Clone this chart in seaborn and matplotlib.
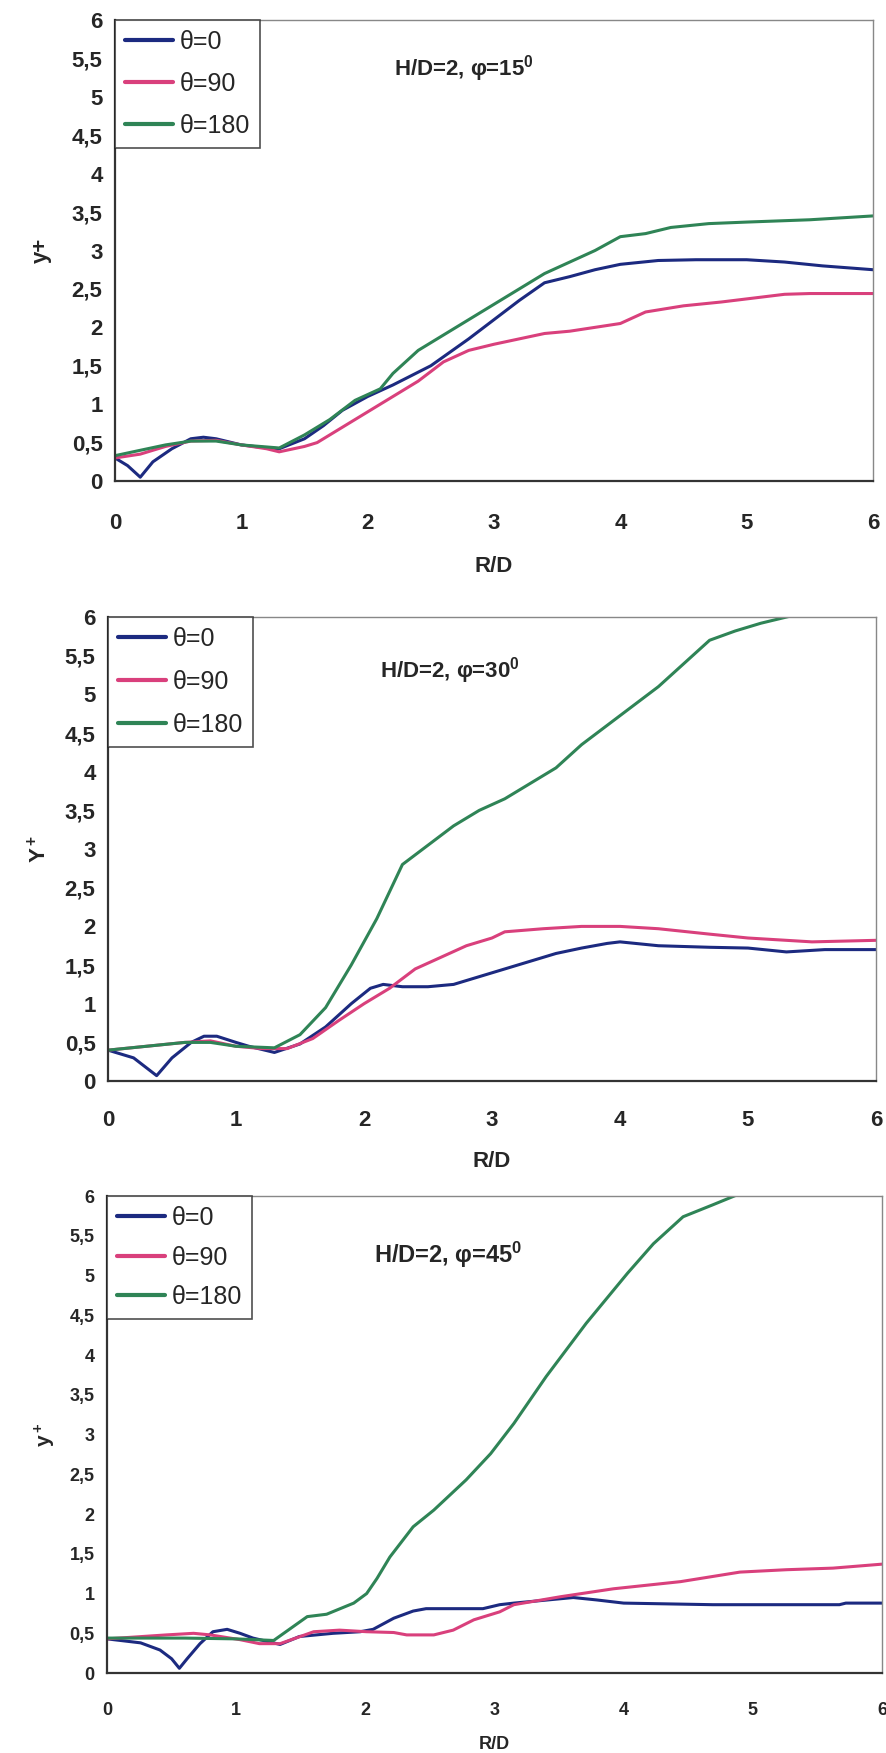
import numpy as np
import pandas as pd
import matplotlib
matplotlib.use("Agg")
import matplotlib.pyplot as plt
from matplotlib.ticker import FuncFormatter, MultipleLocator
import seaborn as sns

# ---- phi = 15 deg ----
rd15_t0 = [0, 0.1, 0.2, 0.3, 0.45, 0.6, 0.7, 0.8, 1.0, 1.15, 1.3, 1.5, 1.65, 1.8, 2.0, 2.2, 2.5, 2.8, 3.0, 3.2, 3.4, 3.6, 3.8, 4.0, 4.3, 4.6, 5.0, 5.3, 5.6, 6.0]
y15_t0 = [0.30, 0.20, 0.05, 0.25, 0.42, 0.55, 0.57, 0.55, 0.47, 0.44, 0.42, 0.55, 0.72, 0.92, 1.10, 1.25, 1.50, 1.85, 2.10, 2.35, 2.58, 2.66, 2.75, 2.82, 2.87, 2.88, 2.88, 2.85, 2.80, 2.75]
rd15_t90 = [0, 0.2, 0.4, 0.6, 0.8, 1.0, 1.2, 1.3, 1.5, 1.6, 1.8, 2.0, 2.2, 2.4, 2.6, 2.8, 3.0, 3.2, 3.4, 3.6, 3.8, 4.0, 4.2, 4.5, 4.8, 5.0, 5.3, 5.5, 6.0]
y15_t90 = [0.30, 0.35, 0.45, 0.52, 0.53, 0.47, 0.42, 0.38, 0.45, 0.50, 0.70, 0.90, 1.10, 1.30, 1.55, 1.70, 1.78, 1.85, 1.92, 1.95, 2.00, 2.05, 2.20, 2.28, 2.33, 2.37, 2.43, 2.44, 2.44]
rd15_t180 = [0, 0.2, 0.4, 0.6, 0.8, 1.0, 1.3, 1.5, 1.7, 1.9, 2.1, 2.2, 2.4, 2.6, 2.8, 3.0, 3.2, 3.4, 3.6, 3.8, 4.0, 4.2, 4.4, 4.7, 5.0, 5.5, 6.0]
y15_t180 = [0.33, 0.40, 0.47, 0.52, 0.52, 0.47, 0.43, 0.60, 0.80, 1.05, 1.20, 1.40, 1.70, 1.90, 2.10, 2.30, 2.50, 2.70, 2.85, 3.00, 3.18, 3.22, 3.30, 3.35, 3.37, 3.40, 3.45]

# ---- phi = 30 deg ----
rd30_t0 = [0, 0.2, 0.38, 0.5, 0.65, 0.75, 0.85, 1.0, 1.1, 1.3, 1.5, 1.7, 1.9, 2.05, 2.15, 2.3, 2.5, 2.7, 2.9, 3.1, 3.3, 3.5, 3.7, 3.9, 4.0, 4.3, 4.7, 5.0, 5.3, 5.6, 6.0]
y30_t0 = [0.40, 0.30, 0.07, 0.30, 0.50, 0.58, 0.58, 0.50, 0.45, 0.37, 0.48, 0.70, 1.00, 1.20, 1.25, 1.22, 1.22, 1.25, 1.35, 1.45, 1.55, 1.65, 1.72, 1.78, 1.80, 1.75, 1.73, 1.72, 1.67, 1.70, 1.70]
rd30_t90 = [0, 0.3, 0.6, 0.8, 1.0, 1.2, 1.4, 1.6, 1.8, 2.0, 2.2, 2.4, 2.6, 2.8, 3.0, 3.1, 3.4, 3.7, 4.0, 4.3, 4.7, 5.0, 5.5, 6.0]
y30_t90 = [0.40, 0.45, 0.50, 0.52, 0.45, 0.42, 0.42, 0.55, 0.78, 1.00, 1.20, 1.45, 1.60, 1.75, 1.85, 1.93, 1.97, 2.00, 2.00, 1.97, 1.90, 1.85, 1.80, 1.82]
rd30_t180 = [0, 0.3, 0.6, 0.8, 1.0, 1.3, 1.5, 1.7, 1.9, 2.1, 2.3, 2.5, 2.7, 2.9, 3.1, 3.3, 3.5, 3.7, 3.9, 4.1, 4.3, 4.5, 4.7, 4.9, 5.1, 5.3, 5.5]
y30_t180 = [0.40, 0.45, 0.50, 0.50, 0.45, 0.43, 0.60, 0.95, 1.50, 2.10, 2.80, 3.05, 3.30, 3.50, 3.65, 3.85, 4.05, 4.35, 4.60, 4.85, 5.10, 5.40, 5.70, 5.82, 5.92, 6.00, 6.08]

# ---- phi = 45 deg ----
rd45_t0 = [0, 0.26, 0.41, 0.5, 0.56, 0.62, 0.72, 0.82, 0.93, 1.03, 1.13, 1.34, 1.49, 1.75, 1.96, 2.06, 2.22, 2.37, 2.47, 2.91, 3.04, 3.15, 3.61, 3.79, 4.0, 4.69, 5.67, 5.72, 6.0]
y45_t0 = [0.43, 0.38, 0.29, 0.18, 0.06, 0.18, 0.37, 0.52, 0.55, 0.50, 0.44, 0.36, 0.46, 0.50, 0.52, 0.55, 0.69, 0.78, 0.81, 0.81, 0.86, 0.88, 0.95, 0.92, 0.88, 0.86, 0.86, 0.88, 0.88]
rd45_t90 = [0, 0.46, 0.67, 0.8, 1.03, 1.18, 1.34, 1.6, 1.8, 2.01, 2.22, 2.32, 2.53, 2.68, 2.84, 3.04, 3.15, 3.51, 3.92, 4.44, 4.9, 5.26, 5.62, 6.0]
y45_t90 = [0.43, 0.48, 0.50, 0.48, 0.42, 0.37, 0.37, 0.52, 0.54, 0.52, 0.51, 0.48, 0.48, 0.54, 0.67, 0.77, 0.86, 0.96, 1.06, 1.15, 1.27, 1.30, 1.32, 1.37]
rd45_t180 = [0, 0.6, 1.0, 1.29, 1.55, 1.7, 1.91, 2.01, 2.09, 2.19, 2.37, 2.53, 2.78, 2.97, 3.15, 3.4, 3.71, 4.03, 4.23, 4.46, 4.69, 4.87, 5.0]
y45_t180 = [0.44, 0.44, 0.43, 0.41, 0.71, 0.74, 0.88, 1.00, 1.19, 1.46, 1.84, 2.05, 2.43, 2.76, 3.14, 3.73, 4.40, 5.03, 5.40, 5.74, 5.89, 6.01, 6.08]

series_names = ["θ=0", "θ=90", "θ=180"]
titles = ["H/D=2, φ=15$^0$", "H/D=2, φ=30$^0$", "H/D=2, φ=45$^0$"]
ylabels = ["y+", "Y$^+$", "y$^+$"]
x_ticks = [0, 1, 2, 3, 4, 5, 6]

colors = {"θ=0": "#1c2a80", "θ=90": "#d9407c", "θ=180": "#2f8456"}

panels = [
    [(rd15_t0, y15_t0), (rd15_t90, y15_t90), (rd15_t180, y15_t180)],
    [(rd30_t0, y30_t0), (rd30_t90, y30_t90), (rd30_t180, y30_t180)],
    [(rd45_t0, y45_t0), (rd45_t90, y45_t90), (rd45_t180, y45_t180)],
]

sns.set_style("white")
plt.rcParams["font.family"] = ["Liberation Sans", "DejaVu Sans"]
plt.rcParams["mathtext.fontset"] = "custom"
plt.rcParams["mathtext.rm"] = "Liberation Sans:bold"
plt.rcParams["mathtext.it"] = "Liberation Sans:bold"
plt.rcParams["mathtext.bf"] = "Liberation Sans:bold"

fig = plt.figure(figsize=(8.86, 17.53), dpi=100)
rects = [
    [0.1298, 0.7256, 0.8555, 0.2630],
    [0.1219, 0.3833, 0.8668, 0.2647],
    [0.1208, 0.0456, 0.8747, 0.2721],
]
tick_fs = [16, 16, 13]
ylabel_fs = [16, 16, 15]
ylabel_pad = [14, 10, 8]
title_fs = [16, 16, 17]
title_pos = [(0.46, 0.895), (0.445, 0.884), (0.44, 0.876)]
legend_fs = 18
legend_spacing = [0.72, 0.75, 0.62]
xpad = [18, 16, 16]
xlabelpad = [16, 14, 12]

comma = FuncFormatter(lambda v, p: ("%g" % v).replace(".", ","))

for i, rect in enumerate(rects):
    ax = fig.add_axes(rect)
    rows = []
    for name, (xs, ys) in zip(series_names, panels[i]):
        rows.append(pd.DataFrame({"R/D": xs, "y": ys, "series": name}))
    df = pd.concat(rows, ignore_index=True)
    sns.lineplot(data=df, x="R/D", y="y", hue="series", hue_order=series_names,
                 palette=colors, linewidth=2.2, sort=False, estimator=None, ax=ax)
    ax.set_xlim(0, 6)
    ax.set_ylim(0, 6)
    ax.set_xticks(x_ticks)
    ax.yaxis.set_major_locator(MultipleLocator(0.5))
    ax.yaxis.set_major_formatter(comma)
    ax.xaxis.set_major_formatter(comma)
    fs = tick_fs[i]
    ax.tick_params(axis="both", which="major", direction="out", length=5,
                   width=1, color="#555555", labelsize=fs)
    ax.tick_params(axis="x", pad=xpad[i])
    ax.tick_params(axis="y", pad=4)
    for lab in ax.get_xticklabels() + ax.get_yticklabels():
        lab.set_fontweight("bold")
    for side in ["left", "bottom"]:
        ax.spines[side].set_color("#333333")
        ax.spines[side].set_linewidth(1.6)
    for side in ["top", "right"]:
        ax.spines[side].set_color("#888888")
        ax.spines[side].set_linewidth(1.0)
    ax.set_xlabel("R/D", fontsize=fs, fontweight="bold", labelpad=xlabelpad[i])
    ax.set_ylabel(ylabels[i], fontsize=ylabel_fs[i], fontweight="bold",
                  labelpad=ylabel_pad[i])
    ax.text(title_pos[i][0], title_pos[i][1], titles[i], transform=ax.transAxes,
            ha="center", va="center", fontsize=title_fs[i], fontweight="bold")
    leg = ax.legend(loc="upper left", bbox_to_anchor=(0.0, 1.0), borderaxespad=0.0,
                    fontsize=legend_fs, frameon=True, fancybox=False,
                    handlelength=1.9, handletextpad=0.3,
                    labelspacing=legend_spacing[i], borderpad=0.4, title=None)
    leg.get_frame().set_edgecolor("#222222")
    leg.get_frame().set_linewidth(1.2)
    for line in leg.get_lines():
        line.set_linewidth(3.0)

fig.savefig("out.png", dpi=100)
